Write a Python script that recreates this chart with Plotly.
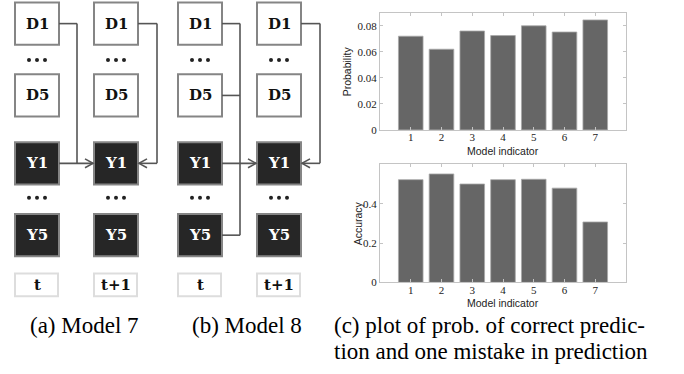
import plotly.graph_objects as go

# ---------------- data ----------------
models = [1, 2, 3, 4, 5, 6, 7]
prob = [0.072, 0.062, 0.076, 0.0725, 0.080, 0.0752, 0.0845]
acc = [0.522, 0.551, 0.500, 0.522, 0.524, 0.479, 0.307]
prob_tickvals = [0, 0.02, 0.04, 0.06, 0.08]
prob_ticktext = ["0", "0.02", "0.04", "0.06", "0.08"]
acc_tickvals = [0, 0.2, 0.4]
acc_ticktext = ["0", "0.2", "0.4"]
x_title = "Model indicator"
y_titles = ["Probability", "Accuracy"]

d_labels = ["D1", "D5"]
y_labels = ["Y1", "Y5"]
time_labels = ["t", "t+1"]
captions_ab = ["(a) Model 7", "(b) Model 8"]
caption_c = ["(c) plot of prob. of correct predic-", "tion and one mistake in prediction"]
# sources feeding into Y1 at t+1 from column t (per panel)
panel_sources = [["D1"], ["D1", "D5", "Y5"]]

# ---------------- layout constants (pixels) ----------------
W, H = 684, 374
panel_x0 = [15, 178]
col_dx = 79
box_w, box_h = 44, 43
row_cy = {"D1": 24, "D5": 97, "Y1": 166, "Y5": 239}
dots_y = [61, 201]
lab_y0, lab_y1 = 278, 301
line_col = "#555555"
box_border = "#858585"
SERIF = "Liberation Serif, Times New Roman, Tinos, Times, serif"
SANS = "Liberation Sans, Arial, Arimo, sans-serif"

fig = go.Figure()
shapes = []
annots = []
dot_x, dot_y = [], []

for p, x0 in enumerate(panel_x0):
    for c in range(2):
        cx0 = x0 + c * col_dx
        cx1 = cx0 + box_w
        cxm = (cx0 + cx1) / 2
        for lab in d_labels + y_labels:
            cy = row_cy[lab]
            dark = lab.startswith("Y")
            shapes.append(dict(type="rect", xref="x", yref="y",
                               x0=cx0, x1=cx1, y0=cy - box_h / 2, y1=cy + box_h / 2,
                               line=dict(color=box_border, width=2),
                               fillcolor="#262626" if dark else "white"))
            annots.append(dict(x=cxm, y=cy, xref="x", yref="y", text="<b>%s</b>" % lab,
                               showarrow=False, xanchor="center", yanchor="middle",
                               font=dict(family="DejaVu Serif", size=15,
                                         color="white" if dark else "#111111")))
        for dy in dots_y:
            for k in (-8, 0, 8):
                dot_x.append(cxm + k)
                dot_y.append(dy)
        shapes.append(dict(type="rect", xref="x", yref="y", x0=cx0, x1=cx1 - 1,
                           y0=lab_y0, y1=lab_y1, line=dict(color="#dddddd", width=2),
                           fillcolor="white"))
        annots.append(dict(x=cxm, y=(lab_y0 + lab_y1) / 2, xref="x", yref="y",
                           text="<b>%s</b>" % time_labels[c], showarrow=False,
                           font=dict(family="DejaVu Serif", size=15, color="#111111")))

    # connectors: column t -> Y1 at t+1
    a_right = x0 + box_w
    b_left = x0 + col_dx
    b_right = b_left + box_w
    bus_a = a_right + 18
    srcs = panel_sources[p]
    ys = [row_cy[s] for s in srcs]
    for s in srcs:
        shapes.append(dict(type="line", xref="x", yref="y", x0=a_right, x1=bus_a,
                           y0=row_cy[s], y1=row_cy[s], line=dict(color=line_col, width=1.6)))
    shapes.append(dict(type="line", xref="x", yref="y", x0=bus_a, x1=bus_a,
                       y0=min(ys), y1=max(ys + [row_cy["Y1"]]),
                       line=dict(color=line_col, width=1.6)))
    yy = row_cy["Y1"]
    shapes.append(dict(type="line", xref="x", yref="y", x0=a_right, x1=b_left - 1,
                       y0=yy, y1=yy, line=dict(color=line_col, width=1.6)))
    tip = b_left - 1
    shapes.append(dict(type="path", xref="x", yref="y",
                       path="M %f,%f L %f,%f L %f,%f" % (tip - 8, yy - 4.5, tip, yy, tip - 8, yy + 4.5),
                       line=dict(color=line_col, width=1.6)))
    # self-loop on column t+1
    bus_b = b_right + 19
    d1 = row_cy["D1"]
    shapes.append(dict(type="line", xref="x", yref="y", x0=b_right, x1=bus_b,
                       y0=d1, y1=d1, line=dict(color=line_col, width=1.6)))
    shapes.append(dict(type="line", xref="x", yref="y", x0=bus_b, x1=bus_b,
                       y0=d1, y1=yy, line=dict(color=line_col, width=1.6)))
    shapes.append(dict(type="line", xref="x", yref="y", x0=bus_b, x1=b_right + 1,
                       y0=yy, y1=yy, line=dict(color=line_col, width=1.6)))
    tip = b_right + 1
    shapes.append(dict(type="path", xref="x", yref="y",
                       path="M %f,%f L %f,%f L %f,%f" % (tip + 8, yy - 4.5, tip, yy, tip + 8, yy + 4.5),
                       line=dict(color=line_col, width=1.6)))

fig.add_trace(go.Scatter(x=dot_x, y=dot_y, mode="markers", xaxis="x", yaxis="y",
                         marker=dict(size=4, color="#222222"), hoverinfo="skip",
                         showlegend=False))

# captions
cap_font = dict(family=SERIF, size=23, color="black")
for i, txt in enumerate(captions_ab):
    annots.append(dict(x=[28, 190][i], y=331, xref="x", yref="y", text=txt,
                       showarrow=False, xanchor="left", yanchor="middle", font=cap_font))
for i, txt in enumerate(caption_c):
    annots.append(dict(x=332, y=331 + 26 * i, xref="x", yref="y", text=txt,
                       showarrow=False, xanchor="left", yanchor="middle", font=cap_font))

# bar charts
bar_style = dict(marker=dict(color="#666666", line=dict(color="#a8a8a8", width=0.8)),
                 width=0.8, showlegend=False, hoverinfo="skip")
fig.add_trace(go.Bar(x=models, y=prob, xaxis="x2", yaxis="y2", **bar_style))
fig.add_trace(go.Bar(x=models, y=acc, xaxis="x3", yaxis="y3", **bar_style))

frame = "#c4c4c4"
tickfont = dict(family=SERIF, size=11, color="#222222")
titlefont = dict(family=SANS, size=10.5, color="#222222")
px0, px1 = 380, 626
xd = [px0 / W, px1 / W]
plot_y = [(13, 132), (167, 287)]

# axis titles placed as annotations in pixel space
title_y = [153, 308]
ytitle_x = [347, 358]
for i in range(2):
    annots.append(dict(x=(px0 + px1) / 2, y=title_y[i], xref="x", yref="y", text=x_title,
                       showarrow=False, xanchor="center", yanchor="middle", font=titlefont))
    annots.append(dict(x=ytitle_x[i], y=sum(plot_y[i]) / 2, xref="x", yref="y",
                       text=y_titles[i], textangle=-90, showarrow=False,
                       xanchor="center", yanchor="middle", font=titlefont))


def xax(anchor):
    return dict(domain=xd, anchor=anchor, range=[0, 8], tickvals=models,
                ticks="inside", ticklen=3, tickcolor=frame, mirror="ticks",
                showline=True, linecolor=frame, linewidth=1, showgrid=False,
                zeroline=False, tickfont=tickfont, ticklabelstandoff=-3)


def yax(anchor, dom, rng, tv, tt):
    return dict(domain=dom, anchor=anchor, range=rng, tickvals=tv, ticktext=tt,
                ticks="inside", ticklen=3, tickcolor=frame, mirror="ticks",
                showline=True, linecolor=frame, linewidth=1, showgrid=False,
                zeroline=False, tickfont=tickfont)


fig.update_layout(
    width=W, height=H, margin=dict(l=0, r=0, t=0, b=0),
    paper_bgcolor="white", plot_bgcolor="white",
    xaxis=dict(domain=[0, 1], range=[0, W], visible=False, fixedrange=True),
    yaxis=dict(domain=[0, 1], range=[H, 0], visible=False, fixedrange=True),
    xaxis2=xax("y2"),
    yaxis2=yax("x2", [(H - plot_y[0][1]) / H, (H - plot_y[0][0]) / H], [0, 0.09],
               prob_tickvals, prob_ticktext),
    xaxis3=xax("y3"),
    yaxis3=yax("x3", [(H - plot_y[1][1]) / H, (H - plot_y[1][0]) / H], [0, 0.6],
               acc_tickvals, acc_ticktext),
    shapes=shapes, annotations=annots, bargap=0.2,
)

fig.write_html("out.html", config={"displayModeBar": False},
               post_script="document.body.style.margin='0px';document.body.style.overflow='hidden';")
